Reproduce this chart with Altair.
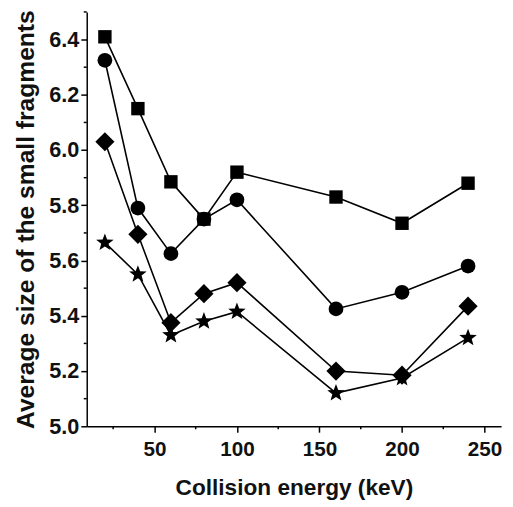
import altair as alt
import pandas as pd

energy = [20, 40, 60, 80, 100, 160, 200, 240]
squares = [6.41, 6.15, 5.885, 5.75, 5.92, 5.83, 5.735, 5.88]
circles = [6.325, 5.79, 5.625, 5.75, 5.82, 5.425, 5.485, 5.58]
diamonds = [6.03, 5.695, 5.375, 5.48, 5.52, 5.20, 5.185, 5.435]
stars = [5.665, 5.55, 5.33, 5.38, 5.415, 5.12, 5.175, 5.32]

series_names = ["square", "circle", "diamond", "star"]
series_values = [squares, circles, diamonds, stars]

rows = []
for name, vals in zip(series_names, series_values):
    for e, v in zip(energy, vals):
        rows.append({"energy": e, "avg": v, "series": name})
df = pd.DataFrame(rows)

x_major = [50, 100, 150, 200, 250]
x_minor = [25, 75, 125, 175, 225]
y_major = [5.0, 5.2, 5.4, 5.6, 5.8, 6.0, 6.2, 6.4]
y_minor = [5.1, 5.3, 5.5, 5.7, 5.9, 6.1, 6.3, 6.5]

STAR = ("M0,-1L0.247,-0.34L0.951,-0.309L0.399,0.13L0.588,0.809L0,0.42"
        "L-0.588,0.809L-0.399,0.13L-0.951,-0.309L-0.247,-0.34Z")
marker_shapes = {"square": "square", "circle": "circle", "diamond": "diamond", "star": STAR}
marker_sizes = {"square": 185, "circle": 225, "diamond": 380, "star": 350}

FONT = "Liberation Sans"
W, H = 421, 421

x_scale = alt.Scale(domain=[9, 260], nice=False, zero=False)
y_scale = alt.Scale(domain=[5.0, 6.5], nice=False, zero=False)

x_enc = alt.X(
    "energy:Q",
    scale=x_scale,
    axis=alt.Axis(
        values=x_major,
        title="Collision energy (keV)",
        tickSize=6,
        labelPadding=7,
        labelFontSize=21,
        titleFontSize=23,
        titlePadding=17,
        grid=False,
        orient="bottom",
    ),
)
y_enc = alt.Y(
    "avg:Q",
    scale=y_scale,
    axis=alt.Axis(
        values=y_major,
        format=".1f",
        title="Average size of the small fragments",
        tickSize=6,
        labelPadding=2,
        labelFontSize=22,
        titleFontSize=25,
        titlePadding=10,
        grid=False,
        orient="left",
    ),
)

lines = alt.Chart(df).mark_line(color="black", strokeWidth=1.6).encode(
    x=x_enc, y=y_enc, detail="series:N"
)

point_layers = []
for name in series_names:
    point_layers.append(
        alt.Chart(df)
        .transform_filter(alt.datum.series == name)
        .mark_point(
            filled=True,
            color="black",
            opacity=1,
            shape=marker_shapes[name],
            size=marker_sizes[name],
        )
        .encode(x=x_enc, y=y_enc)
    )

xminor_df = pd.DataFrame({"energy": x_minor})
yminor_df = pd.DataFrame({"avg": y_minor})

xminor = alt.Chart(xminor_df).mark_rule(color="black", strokeWidth=1.5).encode(
    x=alt.X("energy:Q", scale=x_scale),
    y=alt.value(H),
    y2=alt.value(H + 3),
)
yminor = alt.Chart(yminor_df).mark_rule(color="black", strokeWidth=1.5).encode(
    y=alt.Y("avg:Q", scale=y_scale),
    x=alt.value(0),
    x2=alt.value(-3),
)

chart = (
    alt.layer(lines, *point_layers, xminor, yminor)
    .properties(
        width=W,
        height=H,
        autosize=alt.AutoSizeParams(type="none"),
        padding={"left": 80, "top": 0, "right": 4, "bottom": 78},
    )
    .configure_view(stroke=None)
    .configure_axis(
        domainColor="black",
        domainWidth=1.5,
        tickColor="black",
        tickWidth=1.5,
        labelFont=FONT,
        labelFontWeight="bold",
        labelColor="#111",
        titleFont=FONT,
        titleFontWeight="bold",
        titleColor="#111",
    )
)

chart.save("out.html", embed_options={"renderer": "svg", "actions": False})
